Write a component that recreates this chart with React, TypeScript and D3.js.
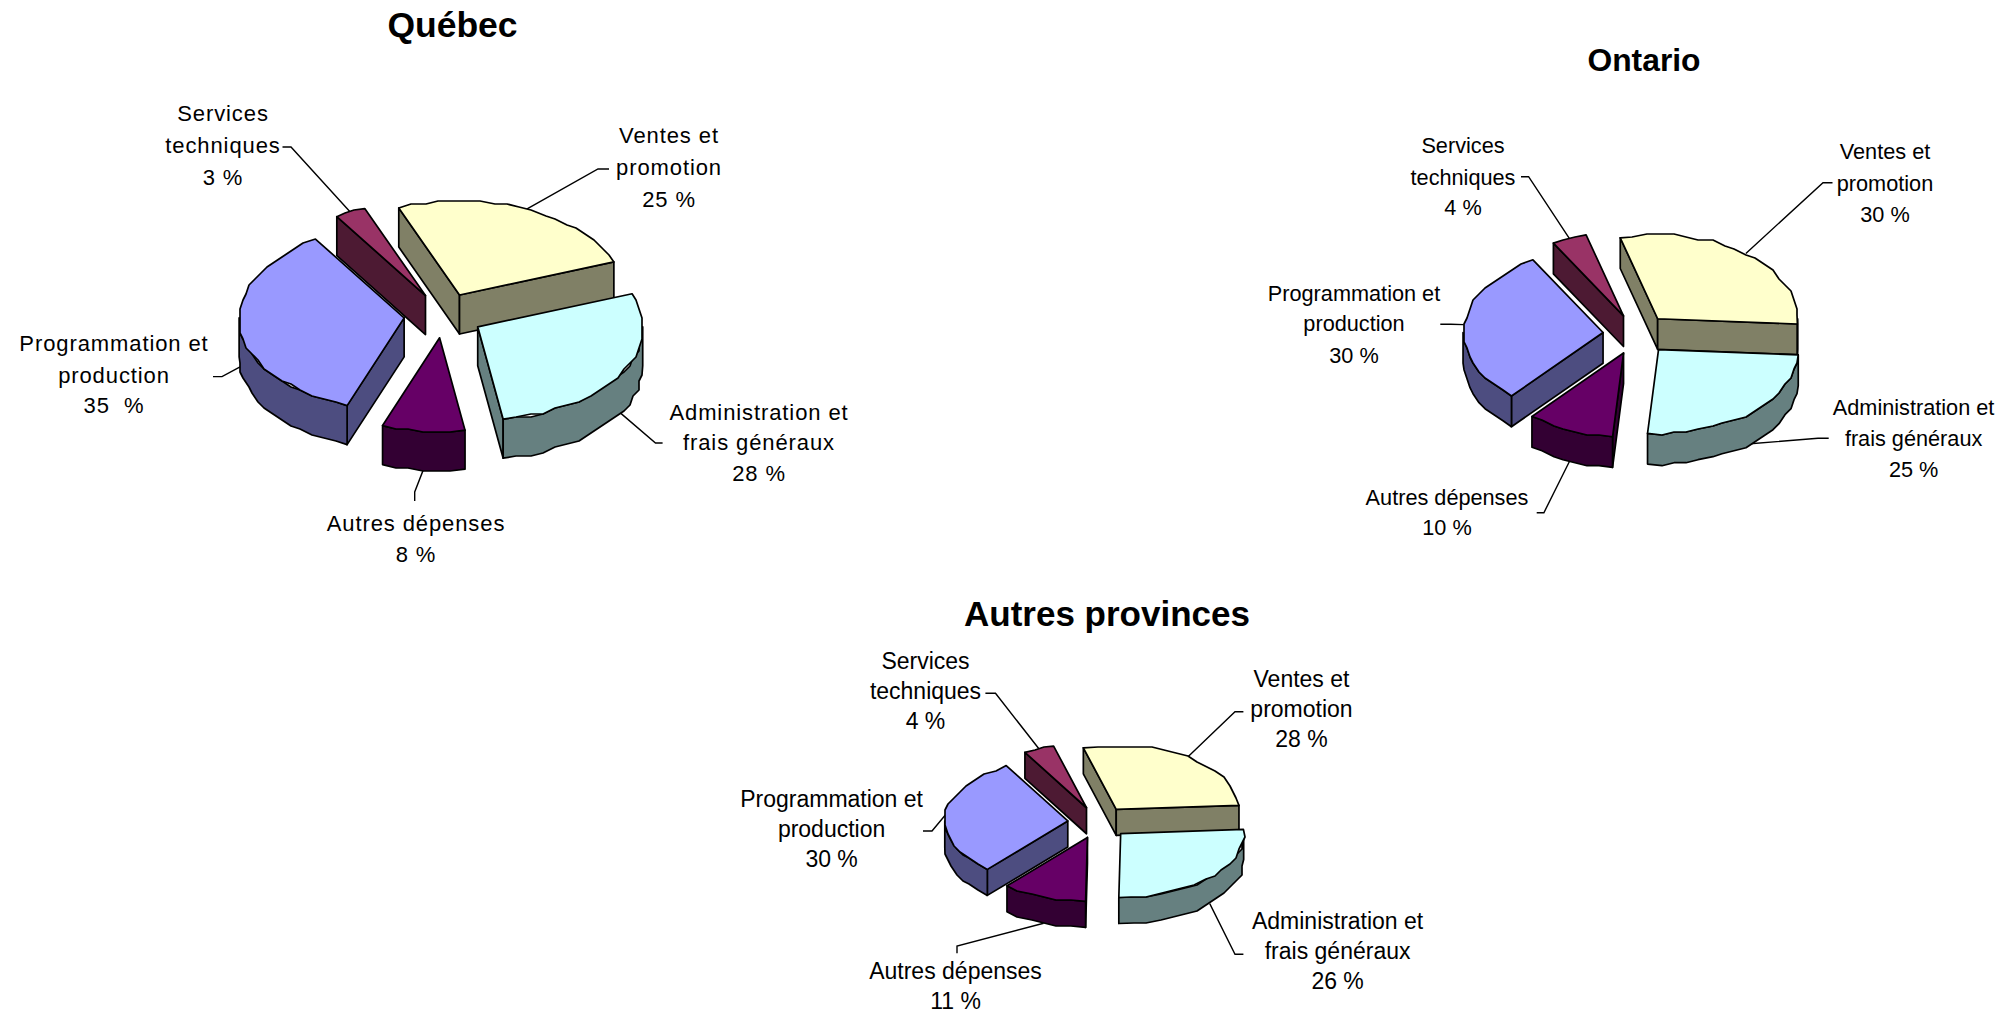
import React from "react";
import * as d3 from "d3";

const categories = ["Ventes et promotion", "Administration et frais généraux", "Autres dépenses", "Programmation et production", "Services techniques"];
const labelLines = [["Ventes et", "promotion"], ["Administration et", "frais généraux"], ["Autres dépenses"], ["Programmation et", "production"], ["Services", "techniques"]];
const quebecValues = [25, 28, 8, 35, 3];
const ontarioValues = [30, 25, 10, 30, 4];
const autresValues = [28, 26, 11, 30, 4];
const topColors = ["#ffffcc", "#ccffff", "#660066", "#9999ff", "#993366"];
const sideColors = ["#808066", "#668080", "#330033", "#4d4d80", "#4d1a33"];

type Layout = {
  title: string; titleX: number; titleY: number; titleSize: number;
  values: number[]; cx: number; cy: number; a: number; b: number; depth: number; explode: number; startDeg: number;
  fontSize: number; spacing: number;
  labelX: number[]; labelY: number[][]; elbow: number[][][]; pctSep?: string[];
};

const charts: Layout[] = [
  {
    title: "Québec", titleX: 452.5, titleY: 37, titleSize: 35.5, values: quebecValues,
    cx: 443.5, cy: 315.5, a: 165, b: 93.5, depth: 39, explode: 0.24, startDeg: -21.6, fontSize: 22, spacing: 0.9,
    labelX: [669, 759, 416, 114, 223],
    labelY: [[143, 175.2, 207], [419.5, 449.5, 481], [531, 562], [350.7, 382.5, 413], [120.8, 153, 185]],
    elbow: [[[609, 169], [598, 169]], [[662.6, 443], [655.5, 443]], [[414.7, 501], [414.7, 492]], [[213, 376.6], [222, 376.6]], [[282.5, 147], [291, 147]]],
    pctSep: [" ", " ", " ", "  ", " "],
  },
  {
    title: "Ontario", titleX: 1644, titleY: 70.5, titleSize: 31.8, values: ontarioValues,
    cx: 1636.5, cy: 334.4, a: 140, b: 84, depth: 30.7, explode: 0.24, startDeg: -15.5, fontSize: 21.7, spacing: 0,
    labelX: [1885, 1913.6, 1447, 1354, 1463],
    labelY: [[159, 191.3, 221.5], [414.8, 445.5, 476.5], [504.8, 534.8], [301, 331.3, 362.6], [153, 184.8, 214.8]],
    elbow: [[[1832.5, 182.7], [1823, 182.7]], [[1828.7, 438.3], [1818, 438.3]], [[1536.7, 512.7], [1543.9, 512.7]], [[1440.3, 324.3], [1450.8, 324.3]], [[1521, 176.7], [1528.6, 176.7]]],
  },
  {
    title: "Autres provinces", titleX: 1107, titleY: 625.5, titleSize: 35, values: autresValues,
    cx: 1098.4, cy: 822.5, a: 123, b: 64, depth: 26, explode: 0.25, startDeg: -15.5, fontSize: 23, spacing: 0,
    labelX: [1301.5, 1337.6, 955.5, 831.6, 925.5],
    labelY: [[687.2, 717.2, 747.2], [928.8, 959.2, 989.2], [978.8, 1008.8], [807.2, 837.2, 867.2], [669.2, 699.2, 729.2]],
    elbow: [[[1243.4, 711.7], [1235, 711.7]], [[1243.4, 954.3], [1235, 954.3]], [[957, 953.3], [957, 946]], [[923, 831], [932, 831]], [[985.4, 693.3], [995.5, 693.3]]],
  },
];

type Pt = [number, number];
const toPath = (pts: Pt[]) => d3.line()(pts as any) + "Z";

function Pie3D({ c }: { c: Layout }) {
  const t0 = (c.startDeg * Math.PI) / 180;
  const arcs = d3.pie<number>().sort(null).value((d) => d).startAngle(t0).endAngle(t0 + 2 * Math.PI)(c.values);
  const xScale = d3.scaleLinear().domain([-1, 1]).range([-c.a, c.a]);
  const yScale = d3.scaleLinear().domain([-1, 1]).range([-c.b, c.b]);
  const onEllipse = (t: number): Pt => [xScale(Math.sin(t)), yScale(-Math.cos(t))];

  const slices = arcs.map((arc, i) => {
    const mid = (arc.startAngle + arc.endAngle) / 2;
    const off = onEllipse(mid);
    const apex: Pt = [c.cx + c.explode * off[0], c.cy + c.explode * off[1]];
    const at = (t: number, dz = 0): Pt => {
      const p = onEllipse(t);
      return [apex[0] + p[0], apex[1] + p[1] + dz];
    };
    // outer edge drawn as a coarse polyline, like the low resolution original
    const sample = (s: number, e: number, dz = 0): Pt[] => {
      const n = Math.max(1, Math.ceil((Math.abs(e - s) * (c.a + c.b)) / 2 / 11));
      const pts: Pt[] = [];
      for (let k = 0; k <= n; k++) {
        const p = at(s + ((e - s) * k) / n);
        const grid = 3;
        const keep = k === 0 || k === n;
        pts.push([keep ? p[0] : Math.round(p[0] / grid) * grid, (keep ? p[1] : Math.round(p[1] / grid) * grid) + dz]);
      }
      return pts;
    };
    const top = [apex, ...sample(arc.startAngle, arc.endAngle)] as Pt[];
    const faces: { d: string; fill: string }[] = [];
    const midPt = at(mid);
    for (const t of [arc.startAngle, arc.endAngle]) {
      const p = at(t);
      const v = [p[0] - apex[0], p[1] - apex[1]];
      let n = [-v[1], v[0]];
      if (n[0] * (midPt[0] - apex[0]) + n[1] * (midPt[1] - apex[1]) > 0) n = [-n[0], -n[1]];
      if (n[1] > 0) {
        faces.push({ d: toPath([apex, p, [p[0], p[1] + c.depth], [apex[0], apex[1] + c.depth]]), fill: sideColors[i] });
      }
    }
    // front wall: every part of the rim in the lower half of the ellipse
    const walls: string[] = [];
    for (const shift of [0, 2 * Math.PI, -2 * Math.PI]) {
      const lo = Math.max(arc.startAngle, Math.PI / 2 + shift);
      const hi = Math.min(arc.endAngle, (3 * Math.PI) / 2 + shift);
      if (hi > lo) walls.push(toPath([...sample(lo, hi), ...sample(lo, hi, c.depth).reverse()]));
    }
    const front = Math.cos(mid) < 0;
    const anchor = at(mid, front ? c.depth : 0);
    return { i, apex, top, faces, walls, anchor, order: apex[1] + off[1] * 0.5 };
  });

  const sorted = [...slices].sort((p, q) => p.order - q.order);
  const pct = (i: number) => `${c.values[i]}${c.pctSep ? c.pctSep[i] : " "}%`;

  return (
    <g>
      <text x={c.titleX} y={c.titleY} textAnchor="middle" fontFamily="'Liberation Sans'" fontWeight="bold" fontSize={c.titleSize} fill="#000">{c.title}</text>
      {slices.map((s) => (
        <polyline key={s.i} points={[s.anchor, ...[...c.elbow[s.i]].reverse()].map((p) => p.join(",")).join(" ")} fill="none" stroke="#000" strokeWidth={1.4} />
      ))}
      {sorted.map((s) => (
        <g key={s.i} stroke="#000" strokeWidth={1.7} strokeLinejoin="round">
          {s.faces.map((f, k) => <path key={k} d={f.d} fill={f.fill} />)}
          {s.walls.map((d, k) => <path key={k} d={d} fill={sideColors[s.i]} />)}
          <path d={toPath(s.top)} fill={topColors[s.i]} />
        </g>
      ))}
      {categories.map((name, i) => {
        const lines = [...labelLines[i], pct(i)];
        return (
          <text key={name} textAnchor="middle" fontFamily="'Liberation Sans'" fontSize={c.fontSize} letterSpacing={c.spacing} fill="#000" style={{ whiteSpace: "pre" }}>
            {lines.map((l, k) => <tspan key={k} x={c.labelX[i]} y={c.labelY[i][k]}>{l}</tspan>)}
          </text>
        );
      })}
    </g>
  );
}

export default function App() {
  return (
    <svg width={2008} height={1013} viewBox="0 0 2008 1013" style={{ position: "fixed", left: 0, top: 0, display: "block", background: "#fff" }}>
      {charts.map((c) => <Pie3D key={c.title} c={c} />)}
    </svg>
  );
}
